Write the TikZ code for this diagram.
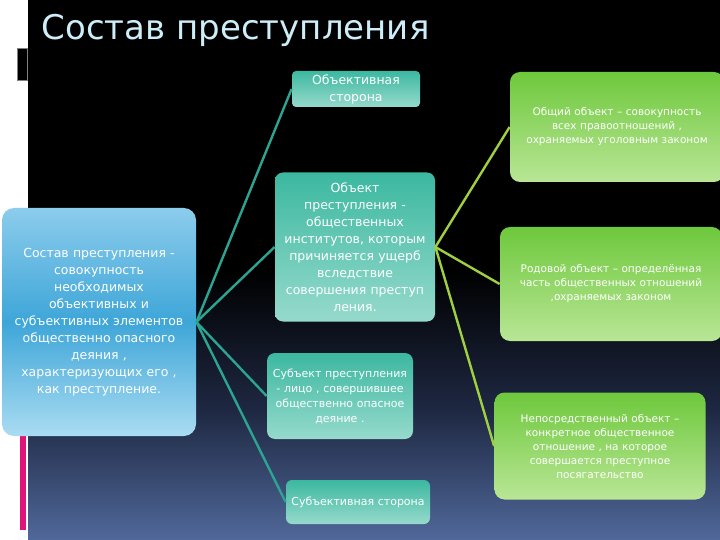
\documentclass[tikz,border=0pt]{standalone}
\usepackage{fontspec}
\setmainfont{DejaVu Sans}
\definecolor{bgbottom}{RGB}{80,104,154}
\definecolor{bgmid}{RGB}{30,40,66}
\definecolor{titlecol}{RGB}{205,238,248}
\definecolor{tealline}{RGB}{44,164,146}
\definecolor{greenline}{RGB}{160,208,64}
\definecolor{bluetop}{RGB}{140,204,236}
\definecolor{bluemid}{RGB}{62,166,216}
\definecolor{bluebot}{RGB}{170,220,242}
\definecolor{tealtop}{RGB}{60,184,160}
\definecolor{tealbot}{RGB}{150,218,204}
\definecolor{greentop}{RGB}{110,200,60}
\definecolor{greenbot}{RGB}{185,230,150}
\definecolor{barpink}{RGB}{224,20,120}
\pgfdeclareverticalshading{slidebg}{100bp}{color(0bp)=(bgbottom); color(25bp)=(bgbottom); color(37bp)=(bgmid); color(50bp)=(black); color(100bp)=(black)}

\begin{document}
\begin{tikzpicture}[x=1pt,y=-1pt,thick,
blue box/.style={rounded corners=12pt,top color=bluetop,bottom color=bluebot,middle color=bluemid,text=white,align=center,inner sep=2pt,font=\fontsize{12.5}{17}\selectfont},
teal box/.style={rounded corners=8pt,top color=tealtop,bottom color=tealbot,text=white,align=center,inner sep=2pt,font=\fontsize{12.5}{17}\selectfont},
small teal/.style={teal box,font=\fontsize{11}{15}\selectfont},
green box/.style={rounded corners=10pt,top color=greentop,bottom color=greenbot,text=white,align=center,inner sep=2pt,font=\fontsize{10.5}{14}\selectfont},
left link/.style={draw=tealline,line width=2.4pt},
right link/.style={draw=greenline,line width=2.4pt}]
\useasboundingbox (0,0) rectangle (720,540);
\fill[white] (0,0) rectangle (28,540);
\shade[shading=slidebg] (28,0) rectangle (720,540);
\fill[black,draw=gray] (17,48) rectangle (27,80);
\fill[barpink] (20,436) rectangle (26,530);
\node[anchor=west,text=titlecol,font=\fontsize{34}{40}\selectfont] (title) at (38,30) {Состав преступления};
\node[blue box,minimum width=194,minimum height=228,text width=188] (sostav) at (99,322) {Состав преступления -\\совокупность\\необходимых\\объективных и\\субъективных элементов\\общественно опасного\\деяния ,\\характеризующих его ,\\как преступление.};
\node[teal box,minimum width=128,minimum height=36,text width=124,rounded corners=4pt] (objside) at (356,89) {Объективная\\сторона};
\node[teal box,minimum width=160,minimum height=149,text width=156] (objcrime) at (355,247) {Объект\\преступления -\\общественных\\институтов, которым\\причиняется ущерб\\вследствие\\совершения преступ\\ления.};
\node[small teal,minimum width=146,minimum height=86,text width=142] (subjcrime) at (340,396) {Субъект преступления\\- лицо , совершившее\\общественно опасное\\деяние .\\[8pt]};
\node[small teal,minimum width=144,minimum height=44,text width=140,rounded corners=6pt] (subjside) at (358,502) {Субъективная сторона};
\node[green box,minimum width=214,minimum height=110,text width=210] (general) at (617,127) {Общий объект – совокупность\\всех правоотношений ,\\охраняемых уголовным законом};
\node[green box,minimum width=222,minimum height=114,text width=218] (generic) at (611,284) {Родовой объект – определённая\\часть общественных отношений\\,охраняемых законом};
\node[green box,minimum width=211,minimum height=107,text width=207] (direct) at (600,446) {Непосредственный объект –\\конкретное общественное\\отношение , на которое\\совершается преступное\\посягательство};
\draw[left link] (sostav.east) -- (objside.west);
\draw[left link] (sostav.east) -- (objcrime.west);
\draw[left link] (sostav.east) -- (subjcrime.west);
\draw[left link] (sostav.east) -- (subjside.west);
\draw[right link] (objcrime.east) -- (general.west);
\draw[right link] (objcrime.east) -- (generic.west);
\draw[right link] (objcrime.east) -- (direct.west);
\end{tikzpicture}
\end{document}
